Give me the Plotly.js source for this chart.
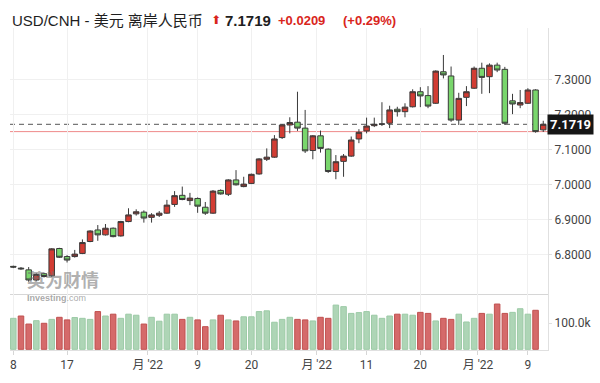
<!DOCTYPE html>
<html>
<head>
<meta charset="utf-8">
<script src="https://cdn.plot.ly/plotly-3.0.1.min.js"></script>
<style>html,body{margin:0;padding:0;background:#fff;}#chart{width:600px;height:383px;}</style>
</head>
<body>
<div id="chart"></div>
<script>
// ---- data (USD/CNH daily candles) ----
const openP = [6.766,6.761,6.756,6.727,6.745,6.739,6.817,6.794,6.794,6.803,
  6.837,6.870,6.856,6.875,6.853,6.894,6.916,6.921,6.906,6.912,
  6.918,6.943,6.969,6.954,6.960,6.935,6.918,6.983,6.972,7.013,
  6.994,7.003,7.030,7.072,7.078,7.134,7.170,7.178,7.161,7.097,
  7.139,7.101,7.037,7.066,7.081,7.130,7.153,7.168,7.173,7.175,
  7.215,7.208,7.222,7.265,7.254,7.232,7.322,7.310,7.184,7.249,
  7.275,7.332,7.308,7.341,7.329,7.239,7.227,7.232,7.270,7.156];
const highP = [6.768,6.764,6.764,6.746,6.748,6.818,6.819,6.798,6.813,6.843,
  6.869,6.884,6.887,6.877,6.896,6.932,6.929,6.926,6.918,6.924,
  6.956,6.981,6.994,6.976,6.963,6.950,6.984,6.986,7.015,7.041,
  7.022,7.031,7.075,7.103,7.141,7.172,7.192,7.265,7.213,7.141,
  7.154,7.103,7.084,7.087,7.137,7.158,7.191,7.191,7.235,7.225,
  7.222,7.232,7.272,7.278,7.281,7.326,7.370,7.337,7.262,7.281,
  7.337,7.348,7.346,7.348,7.336,7.259,7.270,7.275,7.272,7.182];
const lowP = [6.761,6.756,6.722,6.724,6.734,6.736,6.790,6.777,6.791,6.801,
  6.835,6.839,6.854,6.849,6.851,6.892,6.911,6.891,6.891,6.907,
  6.916,6.936,6.955,6.941,6.919,6.913,6.916,6.971,6.967,6.997,
  6.992,7.001,7.028,7.067,7.076,7.130,7.146,7.153,7.090,7.072,
  7.091,7.033,7.015,7.022,7.079,7.118,7.146,7.164,7.167,7.161,
  7.194,7.192,7.220,7.221,7.218,7.230,7.303,7.179,7.170,7.224,
  7.273,7.259,7.261,7.321,7.170,7.201,7.218,7.230,7.148,7.150];
const closeP = [6.764,6.759,6.727,6.743,6.737,6.816,6.792,6.784,6.801,6.834,
  6.867,6.856,6.875,6.851,6.894,6.913,6.922,6.904,6.913,6.918,
  6.941,6.968,6.957,6.961,6.938,6.918,6.981,6.973,7.013,6.999,
  7.001,7.029,7.073,7.078,7.130,7.170,7.177,7.161,7.096,7.139,
  7.103,7.037,7.065,7.081,7.127,7.149,7.167,7.172,7.1725,7.213,
  7.208,7.221,7.265,7.253,7.224,7.324,7.313,7.184,7.246,7.265,
  7.332,7.306,7.341,7.327,7.175,7.230,7.234,7.270,7.151,7.1719];
// volume (latest session not yet reported)
const volume = [119,128,97,110,100,115,123,113,122,119,
  115,145,128,135,119,135,131,97,123,108,
  135,135,115,123,113,87,113,131,113,109,
  125,125,145,148,104,115,123,115,113,109,
  123,119,170,164,138,141,145,131,119,128,
  135,135,131,142,138,109,119,115,135,105,
  119,138,135,174,138,142,156,135,150].map(v => v * 1000);
// x-axis tick labels (positions in trading-day index)
const tickPos = [0, 7, 17.5, 24, 31, 39.5, 46, 53, 60.5, 67];
const tickLabels = ['8', '17', "月 '22", '9', '20', "月 '22", '11', '20', "月 '22", '9'];
const priceTicks = [6.8, 6.9, 7.0, 7.1, 7.2, 7.3];
const volTicks = [100000];
const volTickLabels = ['100.0k'];
const titleText = 'USD/CNH - 美元 离岸人民币';
const change = 0.0209;
const changePct = 0.29;

// ---- derived ----
const idx = closeP.map((_, i) => i);
const vIdx = volume.map((_, i) => i);
const lastClose = closeP[closeP.length - 1];
const prevClose = closeP[closeP.length - 2];
const volColors = volume.map((_, i) => {
  const ref = i > 0 ? closeP[i - 1] : closeP[i];
  return closeP[i] >= ref ? 'up' : 'down';
});

const candle = {
  type: 'candlestick', x: idx, open: openP, high: highP, low: lowP, close: closeP,
  xaxis: 'x', yaxis: 'y',
  increasing: { line: { color: '#3a3a3a', width: 1 }, fillcolor: '#d23c33' },
  decreasing: { line: { color: '#3a3a3a', width: 1 }, fillcolor: '#79d66c' },
  whiskerwidth: 0, hoverinfo: 'skip'
};
const vol = {
  type: 'bar', x: vIdx, y: volume, xaxis: 'x2', yaxis: 'y2',
  marker: {
    color: volColors.map(c => c === 'up' ? '#aed5b6' : '#d56a6a'),
    line: { color: volColors.map(c => c === 'up' ? '#9ccaa6' : '#c0504f'), width: 1 }
  },
  hoverinfo: 'skip'
};

const xr = [-0.43, 69.62];
const labFont = { family: 'Roboto, Arial, sans-serif', size: 12, color: '#444' };
const layout = {
  width: 600, height: 383,
  margin: { l: 10, r: 52, t: 28, b: 33 },
  paper_bgcolor: '#fff', plot_bgcolor: '#fff',
  showlegend: false,
  boxgap: 0.2, boxgroupgap: 0.1,
  bargap: 0.28,
  xaxis: {
    domain: [0, 1], range: xr, anchor: 'y', rangeslider: { visible: false },
    tickvals: tickPos, showticklabels: false, ticks: '',
    showgrid: true, gridcolor: '#f0f0f0', zeroline: false,
    showline: true, linecolor: '#d6d6d6', fixedrange: true
  },
  xaxis2: {
    domain: [0, 1], range: xr, anchor: 'y2',
    tickvals: tickPos, ticktext: tickLabels, ticks: 'outside', ticklen: 4, tickcolor: '#d6d6d6',
    tickfont: Object.assign({}, labFont, { family: 'Roboto, "Noto Sans CJK SC", sans-serif' }),
    showgrid: true, gridcolor: '#f0f0f0', zeroline: false,
    showline: true, linecolor: '#e0e0e0'
  },
  yaxis: {
    domain: [0.174, 1], range: [6.6871, 7.4471], side: 'right', anchor: 'x',
    tickvals: priceTicks, ticktext: priceTicks.map(v => v.toFixed(4)),
    ticks: 'outside', ticklen: 3, tickcolor: '#e0e0e0',
    tickfont: labFont, showgrid: true, gridcolor: '#f0f0f0', zeroline: false,
    showline: true, linecolor: '#e0e0e0'
  },
  yaxis2: {
    domain: [0, 0.174], range: [-2700, 212700], side: 'right', anchor: 'x2',
    tickvals: volTicks, ticktext: volTickLabels,
    ticks: 'outside', ticklen: 3, tickcolor: '#e0e0e0',
    tickfont: labFont, showgrid: false, zeroline: false,
    showline: true, linecolor: '#e0e0e0'
  },
  shapes: [
    { type: 'line', xref: 'paper', x0: 0, x1: 1, yref: 'y', y0: prevClose, y1: prevClose,
      line: { color: '#ef8a8a', width: 1 }, layer: 'below' },
    { type: 'line', xref: 'paper', x0: 0, x1: 1, yref: 'y', y0: lastClose, y1: lastClose,
      line: { color: '#555', width: 1, dash: '5px,4px' }, layer: 'below' }
  ],
  annotations: [
    { xref: 'paper', yref: 'paper', x: 0, y: 1.0248, xanchor: 'left', yanchor: 'middle',
      text: titleText, showarrow: false,
      font: { family: 'Liberation Sans, Arial, "Noto Sans CJK SC", sans-serif', size: 15, color: '#1e1e1e' } },
    { xref: 'paper', yref: 'paper', x: 0.383, y: 1.0248, xanchor: 'center', yanchor: 'middle',
      text: '⬆', showarrow: false,
      font: { family: 'DejaVu Sans, sans-serif', size: 12, color: '#d9251c' } },
    { xref: 'paper', yref: 'paper', x: 0.3955, y: 1.0248, xanchor: 'left', yanchor: 'middle',
      text: '<b>' + lastClose.toFixed(4) + '</b>', showarrow: false,
      font: { family: 'Liberation Sans, Arial, sans-serif', size: 15, color: '#1e1e1e' } },
    { xref: 'paper', yref: 'paper', x: 0.4945, y: 1.0248, xanchor: 'left', yanchor: 'middle',
      text: '<b>+' + change.toFixed(4) + '</b>', showarrow: false,
      font: { family: 'Liberation Sans, Arial, sans-serif', size: 13, color: '#d9251c' } },
    { xref: 'paper', yref: 'paper', x: 0.6155, y: 1.0248, xanchor: 'left', yanchor: 'middle',
      text: '<b>(+' + changePct.toFixed(2) + '%)</b>', showarrow: false,
      font: { family: 'Liberation Sans, Arial, sans-serif', size: 13, color: '#d9251c' } },
    { xref: 'paper', yref: 'y', x: 1, y: lastClose, xanchor: 'left', yanchor: 'middle',
      text: '<b>' + lastClose.toFixed(4) + '</b>', showarrow: false, bgcolor: '#161616',
      borderpad: 2, xshift: -1,
      font: { family: 'Roboto, Arial, sans-serif', size: 13, color: '#fff' } },
    { xref: 'paper', yref: 'paper', x: 0.03, y: 0.2205, xanchor: 'left', yanchor: 'middle',
      text: '<b>英为财情</b>', showarrow: false, borderpad: 0,
      font: { family: '"Noto Sans CJK SC", sans-serif', size: 18, color: 'rgba(110,110,110,0.55)' } },
    { xref: 'paper', yref: 'paper', x: 0.03, y: 0.163, xanchor: 'left', yanchor: 'middle',
      text: '<b>Investing</b>.com', showarrow: false, borderpad: 0,
      font: { family: 'Liberation Sans, Arial, sans-serif', size: 9, color: 'rgba(110,110,110,0.6)' } }
  ]
};

Plotly.newPlot('chart', [candle, vol], layout, { displayModeBar: false, staticPlot: true });
</script>
</body>
</html>
